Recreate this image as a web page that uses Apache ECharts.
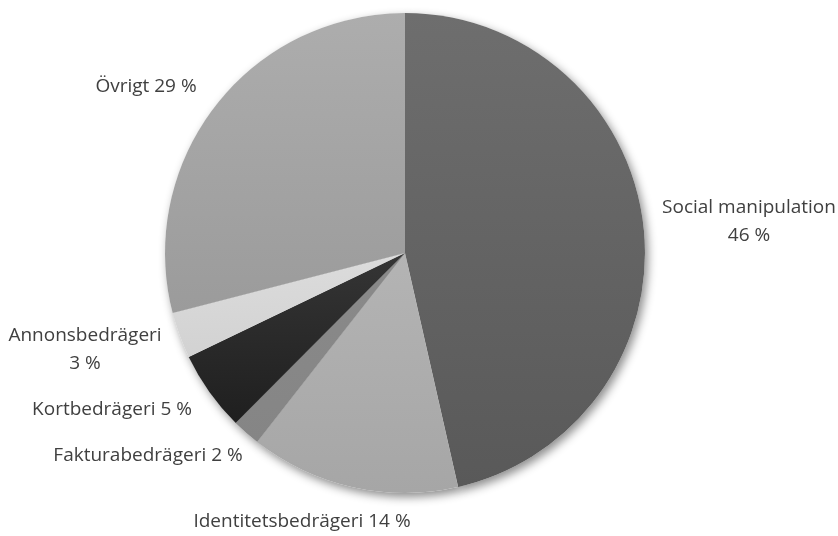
<!DOCTYPE html>
<html>
<head>
<meta charset="utf-8">
<script src="https://cdn.jsdelivr.net/npm/echarts@6/dist/echarts.min.js"></script>
<style>
html,body{margin:0;padding:0;background:#fff;}
#c{width:838px;height:536px;}
</style>
</head>
<body>
<div id="c"></div>
<script>
// Data
var categories = ['Social manipulation', 'Identitetsbedrägeri', 'Fakturabedrägeri', 'Kortbedrägeri', 'Annonsbedrägeri', 'Övrigt'];
var values = [46.4, 14.1, 1.9, 5.4, 3.1, 29.0];
var labelPercents = [46, 14, 2, 5, 3, 29];
var labelBreak = [true, false, false, false, true, false];

// Styles
var sliceColors = [
  ['#6e6e6e', '#595959'],
  ['#b4b4b4', '#a6a6a6'],
  ['#8a8a8a', '#858585'],
  ['#353535', '#1f1f1f'],
  ['#dcdcdc', '#d2d2d2'],
  ['#adadad', '#9b9b9b']
];
var labelPos = [
  [749, 222],
  [302, 522],
  [148, 456],
  [112, 410],
  [85, 350],
  [146, 87]
];

var chart = echarts.init(document.getElementById('c'));
var center = [405, 253];
var radius = 240;

var mainData = categories.map(function (name, i) {
  return {
    name: name,
    value: values[i],
    itemStyle: {
      color: new echarts.graphic.LinearGradient(0, 0, 0, 1, [
        { offset: 0, color: sliceColors[i][0] },
        { offset: 1, color: sliceColors[i][1] }
      ])
    }
  };
});
var shadowData = categories.map(function (name, i) {
  return { name: name, value: values[i] };
});

chart.setOption({
  animation: false,
  backgroundColor: '#ffffff',
  series: [
    {
      type: 'pie',
      silent: true,
      z: 1,
      center: center,
      radius: radius,
      startAngle: 90,
      clockwise: true,
      data: shadowData,
      label: { show: false },
      labelLine: { show: false },
      itemStyle: {
        color: '#ffffff',
        borderWidth: 0,
        shadowBlur: 10,
        shadowOffsetX: 3,
        shadowOffsetY: 4,
        shadowColor: 'rgba(0,0,0,0.45)'
      }
    },
    {
      type: 'pie',
      z: 2,
      center: center,
      radius: radius,
      startAngle: 90,
      clockwise: true,
      data: mainData,
      itemStyle: { borderWidth: 0 },
      label: {
        show: true,
        position: 'outside',
        color: '#404040',
        fontFamily: 'Open Sans',
        fontSize: 19,
        lineHeight: 28,
        align: 'center',
        overflow: 'none',
        width: 300,
        formatter: function (p) {
          var i = p.dataIndex;
          return p.name + (labelBreak[i] ? '\n' : ' ') + labelPercents[i] + ' %';
        }
      },
      labelLine: { show: false },
      labelLayout: function (p) {
        var pos = labelPos[p.dataIndex];
        return { x: pos[0], y: pos[1], align: 'center', verticalAlign: 'middle' };
      }
    }
  ]
});
</script>
</body>
</html>
